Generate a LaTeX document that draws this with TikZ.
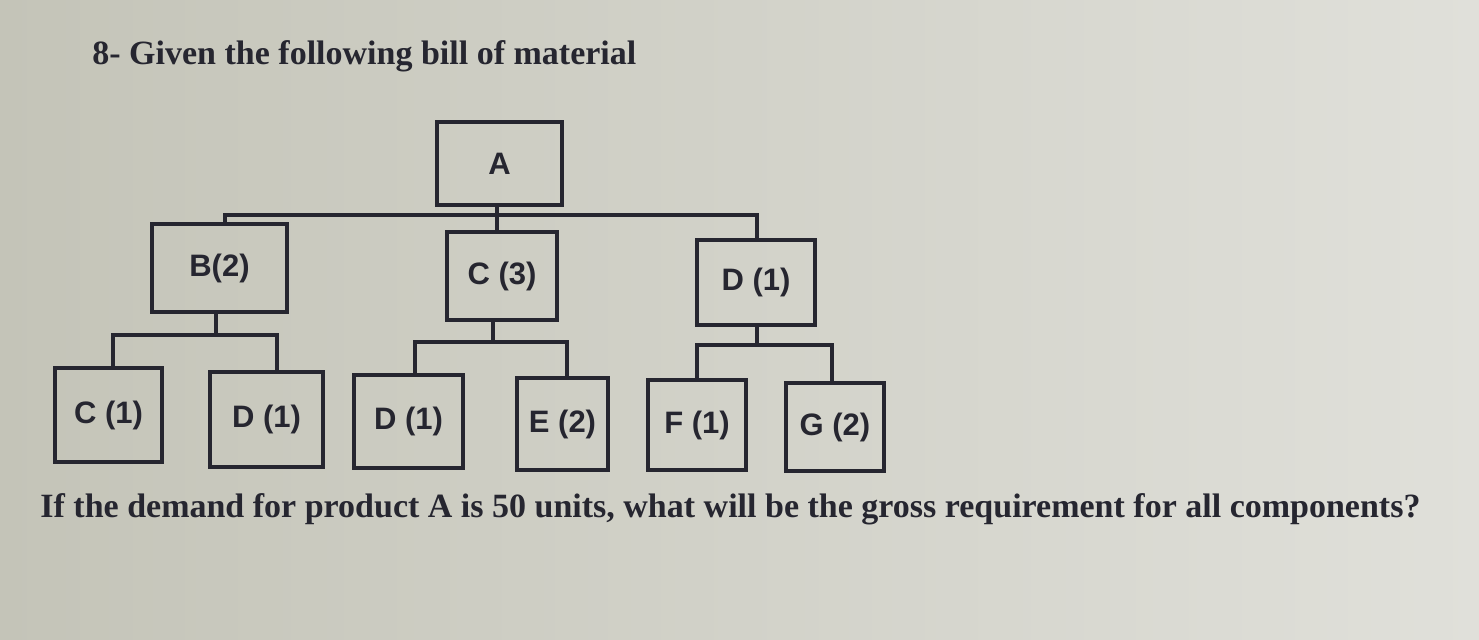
\documentclass[tikz,border=0pt]{standalone}
\usepackage{fontspec}
\setmainfont{Liberation Serif}
\newfontfamily\arialfont{Liberation Sans}
\definecolor{ink}{RGB}{38,38,48}
\definecolor{bgl}{RGB}{196,196,184}
\definecolor{bgm}{RGB}{228,228,198}
\definecolor{bgr}{RGB}{224,224,218}
\begin{document}
\begin{tikzpicture}[x=0.5pt,y=-0.5pt,
  part/.style={draw=ink,line width=1.8pt,inner sep=0pt,font=\arialfont\bfseries\fontsize{15.5}{15.5}\selectfont,text=ink},
  link/.style={draw=ink,line width=1.8pt},
  txt/.style={text=ink,font=\bfseries\fontsize{17}{17}\selectfont,inner sep=0pt}]
\fill[left color=bgl,middle color=bgm,right color=bgr] (0,0) rectangle (1479,639);
\useasboundingbox (0,0) rectangle (1479,639);
\node[txt,anchor=base west] (title) at (92,64) {8- Given the following bill of material};
\node[txt,anchor=base west] (question) at (40,517) {If the demand for product A is 50 units, what will be the gross requirement for all components?};
\node[part,minimum width=62.5pt,minimum height=41.5pt] (A) at (499.5,163.5) {A};
\node[part,minimum width=67.5pt,minimum height=44pt] (B) at (219.5,268) {B(2)};
\node[part,minimum width=55pt,minimum height=44pt] (C3) at (502,276) {C (3)};
\node[part,minimum width=59pt,minimum height=42.5pt] (D1) at (756,282.5) {D (1)};
\node[part,minimum width=53.5pt,minimum height=47pt] (C1) at (108.5,415) {C (1)};
\node[part,minimum width=56.5pt,minimum height=47.5pt] (DB) at (266.5,419.5) {D (1)};
\node[part,minimum width=54.5pt,minimum height=46.5pt] (DC) at (408.5,421.5) {D (1)};
\node[part,minimum width=45.5pt,minimum height=46pt] (E) at (562.5,424) {E (2)};
\node[part,minimum width=49pt,minimum height=45pt] (F) at (697,425) {F (1)};
\node[part,minimum width=49pt,minimum height=44pt] (G) at (835,427) {G (2)};
% level 1 bus
\coordinate (busA) at (497,215);
\coordinate (busB) at (225,215);
\coordinate (busD) at (757,215);
\draw[link] (A.south -| busA) -- (C3.north -| busA);
\draw[link] (B.north -| busB) -- (busB) -- (busD) -- (D1.north -| busD);
% B children
\coordinate (bB) at (216,335);
\coordinate (bB1) at (113,335);
\coordinate (bB2) at (277,335);
\draw[link] (B.south -| bB) -- (bB);
\draw[link] (C1.north -| bB1) -- (bB1) -- (bB2) -- (DB.north -| bB2);
% C children
\coordinate (bC) at (493,342);
\coordinate (bC1) at (415,342);
\coordinate (bC2) at (567,342);
\draw[link] (C3.south -| bC) -- (bC);
\draw[link] (DC.north -| bC1) -- (bC1) -- (bC2) -- (E.north -| bC2);
% D children
\coordinate (bD) at (757,345);
\coordinate (bD1) at (697,345);
\coordinate (bD2) at (832,345);
\draw[link] (D1.south -| bD) -- (bD);
\draw[link] (F.north -| bD1) -- (bD1) -- (bD2) -- (G.north -| bD2);
\end{tikzpicture}
\end{document}
